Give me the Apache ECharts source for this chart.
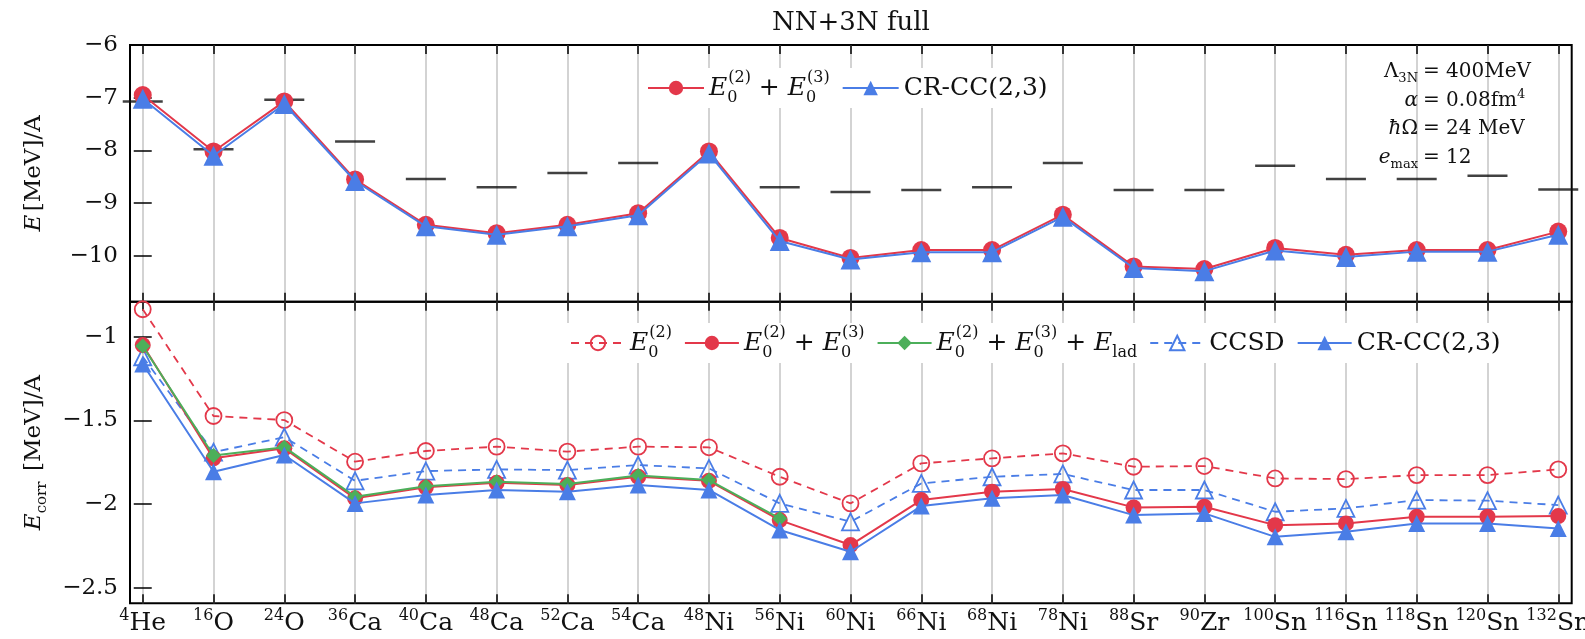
<!DOCTYPE html>
<html>
<head>
<meta charset="utf-8">
<title>NN+3N full</title>
<script src="https://cdn.jsdelivr.net/npm/echarts@6/dist/echarts.min.js"></script>
<style>
  html, body { margin: 0; padding: 0; background: #fff; }
  #chart { width: 1585px; height: 639px; }
</style>
</head>
<body>
<div id="chart"></div>
<script>
// Nuclei along the x axis: mass number (superscript) and element symbol
const massNumbers = ['4', '16', '24', '36', '40', '48', '52', '54', '48', '56', '60', '66', '68', '78', '88', '90', '100', '116', '118', '120', '132'];
const elements = ['He', 'O', 'O', 'Ca', 'Ca', 'Ca', 'Ca', 'Ca', 'Ni', 'Ni', 'Ni', 'Ni', 'Ni', 'Ni', 'Sr', 'Zr', 'Sn', 'Sn', 'Sn', 'Sn', 'Sn'];

// Upper panel: ground-state energy per nucleon [MeV]
const totalE23 = [-6.95, -8.02, -7.07, -8.55, -9.41, -9.57, -9.41, -9.19, -8.02, -9.66, -10.04, -9.89, -9.89, -9.22, -10.20, -10.25, -9.85, -9.98, -9.89, -9.89, -9.54];
const totalCRCC = [-7.02, -8.10, -7.12, -8.58, -9.44, -9.60, -9.44, -9.23, -8.06, -9.72, -10.07, -9.93, -9.93, -9.26, -10.23, -10.29, -9.90, -10.02, -9.92, -9.92, -9.60];
const totalExp = [-7.07, -7.98, -7.04, -7.83, -8.54, -8.70, -8.43, -8.24, null, -8.70, -8.79, -8.75, -8.70, -8.24, -8.75, -8.75, -8.29, -8.54, -8.54, -8.48, -8.74];

// Lower panel: correlation energy per nucleon [MeV]
const corrE2 = [-0.836, -1.474, -1.498, -1.747, -1.683, -1.657, -1.687, -1.657, -1.661, -1.837, -1.996, -1.757, -1.727, -1.697, -1.777, -1.773, -1.847, -1.851, -1.827, -1.827, -1.793];
const corrE23 = [-1.050, -1.727, -1.667, -1.966, -1.900, -1.873, -1.886, -1.837, -1.861, -2.096, -2.245, -1.976, -1.926, -1.910, -2.020, -2.016, -2.126, -2.116, -2.076, -2.076, -2.072];
const corrE23Lad = [-1.056, -1.710, -1.660, -1.956, -1.893, -1.867, -1.880, -1.830, -1.857, -2.086];
const corrCCSD = [-1.120, -1.690, -1.600, -1.861, -1.803, -1.793, -1.797, -1.767, -1.787, -1.996, -2.106, -1.877, -1.837, -1.820, -1.916, -1.916, -2.046, -2.026, -1.976, -1.980, -2.006];
const corrCRCC = [-1.163, -1.807, -1.707, -1.996, -1.946, -1.916, -1.926, -1.886, -1.916, -2.155, -2.285, -2.012, -1.966, -1.946, -2.066, -2.056, -2.196, -2.166, -2.116, -2.116, -2.146];

// Tick positions
const topTicks = [-10, -9, -8, -7, -6];
const bottomTicks = [-2.5, -2, -1.5, -1];
const nucleusIdx = massNumbers.map((_, i) => i);

const RED = '#E3384A';
const BLUE = '#4A7DE6';
const GREEN = '#4CAF5A';
const GRIDC = '#c4c4c4';
const SERIF = 'DejaVu Serif';

const X_MIN = -0.18, X_MAX = 20.19;

const pairs = arr => arr.map((v, i) => [i, v]).filter(p => p[1] != null);
const minus = v => String(v).replace('-', '\u2212');

const mathRich = {
  it: { fontFamily: SERIF, fontStyle: 'italic', fontSize: 25, lineHeight: 36, verticalAlign: 'middle', color: '#111' },
  rm: { fontFamily: SERIF, fontSize: 25, lineHeight: 36, verticalAlign: 'middle', color: '#111' },
  sup: { fontFamily: SERIF, fontSize: 16, lineHeight: 16, verticalAlign: 'top', color: '#111' },
  sub: { fontFamily: SERIF, fontSize: 16, lineHeight: 16, verticalAlign: 'bottom', width: 1, color: '#111' },
  sub2: { fontFamily: SERIF, fontSize: 16, lineHeight: 16, verticalAlign: 'bottom', color: '#111' }
};

const axisNameRich = {
  it: { fontFamily: SERIF, fontStyle: 'italic', fontSize: 23, lineHeight: 32, verticalAlign: 'middle', color: '#111' },
  rm: { fontFamily: SERIF, fontSize: 23, lineHeight: 32, verticalAlign: 'middle', color: '#111' },
  sub2: { fontFamily: SERIF, fontSize: 15, lineHeight: 15, verticalAlign: 'bottom', color: '#111' }
};

const E2 = '{it|E}{sub|0}{sup|(2)}';
const E3 = '{it|E}{sub|0}{sup|(3)}';
const legendText = {
  top23: E2 + '{rm| + }' + E3,
  topCR: '{rm|CR-CC(2,3)}',
  e2: E2,
  e23: E2 + '{rm| + }' + E3,
  e23lad: E2 + '{rm| + }' + E3 + '{rm| + }{it|E}{sub2|lad}',
  ccsd: '{rm|CCSD}',
  crcc: '{rm|CR-CC(2,3)}'
};

function xAxisPair(gridIndex, withLabels) {
  const tick = { show: true, inside: true, length: 9, customValues: nucleusIdx, lineStyle: { color: '#000', width: 1.5 } };
  return [
    {
      gridIndex, type: 'value', min: X_MIN, max: X_MAX, position: 'bottom',
      axisLine: { show: false },
      axisTick: tick,
      axisLabel: withLabels ? {
        show: true, customValues: nucleusIdx, margin: 5,
        formatter: v => { const i = Math.round(v); return '{m|' + massNumbers[i] + '}{e|' + elements[i] + '}'; },
        rich: {
          m: { fontFamily: SERIF, fontSize: 16, lineHeight: 16, verticalAlign: 'top', color: '#111' },
          e: { fontFamily: SERIF, fontSize: 25, lineHeight: 31, verticalAlign: 'middle', color: '#111' }
        }
      } : { show: false },
      splitLine: { show: true, lineStyle: { color: GRIDC, width: 1.5 } }
    },
    {
      gridIndex, type: 'value', min: X_MIN, max: X_MAX, position: 'top',
      axisLine: { show: false }, axisTick: tick,
      axisLabel: { show: false }, splitLine: { show: false }
    }
  ];
}

function yAxisPair(gridIndex, min, max, ticks, name) {
  const tick = { show: true, inside: true, length: 9, customValues: ticks, lineStyle: { color: '#000', width: 1.5 } };
  return [
    {
      gridIndex, type: 'value', min, max, position: 'left',
      axisLine: { show: false }, axisTick: tick,
      axisLabel: { show: true, customValues: ticks, margin: 12, formatter: minus, fontFamily: SERIF, fontSize: 23, color: '#111' },
      splitLine: { show: false },
      name, nameLocation: 'middle', nameRotate: 90, nameGap: 80,
      nameTextStyle: { rich: axisNameRich }
    },
    {
      gridIndex, type: 'value', min, max, position: 'right',
      axisLine: { show: false }, axisTick: tick,
      axisLabel: { show: false }, splitLine: { show: false }
    }
  ];
}

function lineSeries(name, data, xi, yi, color, symbol, size, opts) {
  opts = opts || {};
  return {
    name, type: 'line', xAxisIndex: xi, yAxisIndex: yi, data: pairs(data),
    symbol, symbolSize: size, showAllSymbol: true,
    lineStyle: { color, width: opts.width || 2, type: opts.dashed ? [8, 6] : 'solid' },
    itemStyle: opts.open
      ? { color: 'rgba(255,255,255,0)', borderColor: color, borderWidth: 1.8 }
      : { color, borderColor: color, borderWidth: 0 },
    z: opts.z || 3,
    emphasis: { disabled: true }
  };
}

const legendBase = {
  orient: 'horizontal', selectedMode: false, backgroundColor: '#fff',
  padding: [2, 4], itemGap: 12, itemHeight: 18,
  formatter: name => legendText[name],
  textStyle: { rich: mathRich }
};

const option = {
  animation: false,
  backgroundColor: '#fff',
  grid: [
    { left: 130, right: 13.3, top: 45, height: 256.7, show: true, borderColor: '#000', borderWidth: 2, containLabel: false, outerBoundsMode: 'none' },
    { left: 130, right: 13.3, top: 301.7, height: 301.6, show: true, borderColor: '#000', borderWidth: 2, containLabel: false, outerBoundsMode: 'none' }
  ],
  xAxis: [...xAxisPair(0, false), ...xAxisPair(1, true)],
  yAxis: [
    ...yAxisPair(0, -10.87, -6, topTicks, '{it|E} {rm|[MeV]/A}'),
    ...yAxisPair(1, -2.593, -0.791, bottomTicks, '{it|E}{sub2|corr} {rm| [MeV]/A}')
  ],
  legend: [
    Object.assign({}, legendBase, { data: ['top23', 'topCR'], left: 643, top: 68, itemWidth: 56 }),
    Object.assign({}, legendBase, { data: ['e2', 'e23', 'e23lad', 'ccsd', 'crcc'], left: 566, top: 323, itemWidth: 54 })
  ],
  series: [
    {
      name: 'exp', type: 'scatter', xAxisIndex: 0, yAxisIndex: 0,
      data: pairs(totalExp), symbol: 'rect', symbolSize: [40, 2.5],
      itemStyle: { color: '#111' }, z: 3, emphasis: { disabled: true }
    },
    lineSeries('top23', totalE23, 0, 0, RED, 'circle', 18, { z: 4 }),
    lineSeries('topCR', totalCRCC, 0, 0, BLUE, 'triangle', 20, { z: 5 }),
    lineSeries('e2', corrE2, 2, 2, RED, 'circle', 16, { dashed: true, open: true, width: 1.8, z: 3 }),
    lineSeries('e23', corrE23, 2, 2, RED, 'circle', 16, { z: 4 }),
    lineSeries('e23lad', corrE23Lad, 2, 2, GREEN, 'diamond', 15, { z: 5 }),
    lineSeries('ccsd', corrCCSD, 2, 2, BLUE, 'triangle', 17, { dashed: true, open: true, width: 1.8, z: 3 }),
    lineSeries('crcc', corrCRCC, 2, 2, BLUE, 'triangle', 17, { z: 6 })
  ],
  graphic: [
    {
      type: 'text', x: 851, y: 23, z: 10,
      style: { text: 'NN+3N full', fontFamily: SERIF, fontSize: 26, fill: '#111', align: 'center', verticalAlign: 'middle' }
    },
    // parameter box, columns aligned on the equals sign
    ...[
      ['{u|Λ}{s|3N}', '{u|= 400MeV}', 72],
      ['{i|α}', '{u|= 0.08fm}{p|4}', 101],
      ['{i|ħ}{u|Ω}', '{u|= 24 MeV}', 129],
      ['{i|e}{s|max}', '{u|= 12}', 158]
    ].flatMap(([lhs, rhs, y]) => {
      const rich = {
        u: { fontFamily: SERIF, fontSize: 20, fill: '#111', lineHeight: 26, verticalAlign: 'middle' },
        i: { fontFamily: SERIF, fontStyle: 'italic', fontSize: 20, fill: '#111', lineHeight: 26, verticalAlign: 'middle' },
        s: { fontFamily: SERIF, fontSize: 13, fill: '#111', lineHeight: 13, verticalAlign: 'bottom' },
        p: { fontFamily: SERIF, fontSize: 13, fill: '#111', lineHeight: 13, verticalAlign: 'top' }
      };
      return [
        { type: 'text', x: 1418, y, z: 10, style: { text: lhs, rich, align: 'right', verticalAlign: 'middle', fill: '#111', fontFamily: SERIF, fontSize: 20 } },
        { type: 'text', x: 1423, y, z: 10, style: { text: rhs, rich, align: 'left', verticalAlign: 'middle', fill: '#111', fontFamily: SERIF, fontSize: 20 } }
      ];
    })
  ]
};

const chart = echarts.init(document.getElementById('chart'), null, { renderer: 'canvas' });
chart.setOption(option);
</script>
</body>
</html>
